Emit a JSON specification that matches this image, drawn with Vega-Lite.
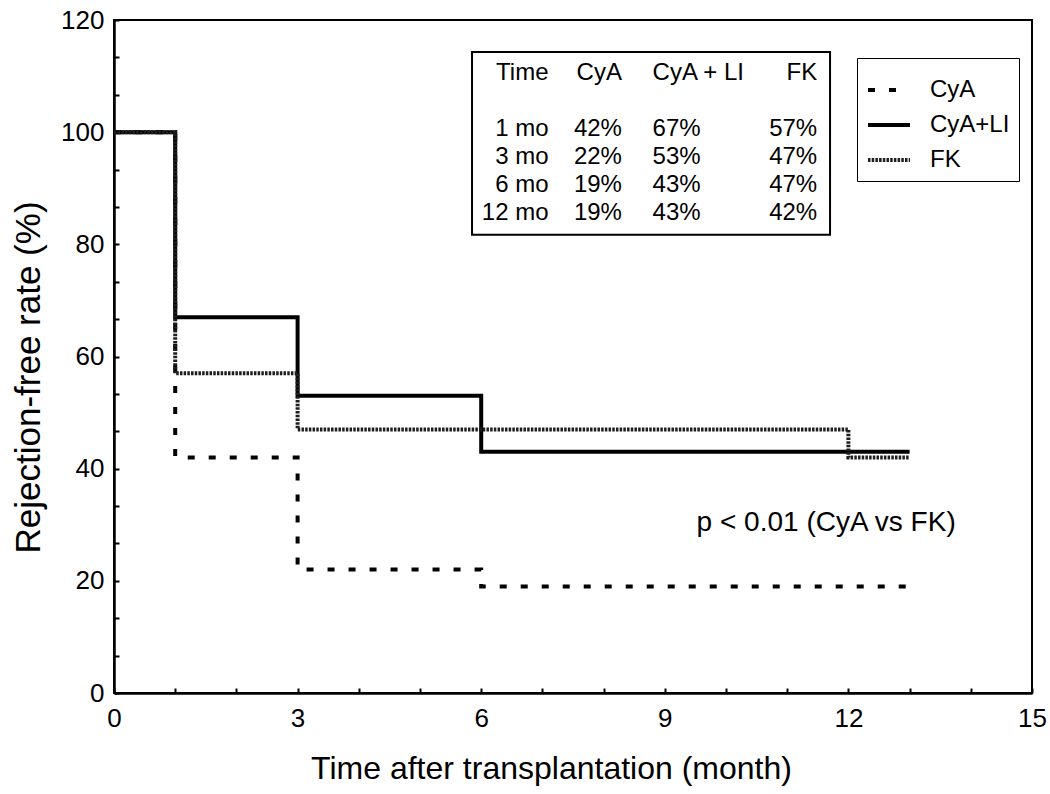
{
  "$schema": "https://vega.github.io/schema/vega-lite/v6.json",
  "width": 918,
  "height": 673,
  "autosize": "none",
  "padding": {"left": 114, "top": 20, "right": 18, "bottom": 101},
  "background": "white",
  "config": {
    "font": "Liberation Sans",
    "view": {"stroke": "black", "strokeWidth": 2},
    "axis": {
      "labelFont": "Liberation Sans",
      "titleFont": "Liberation Sans",
      "labelColor": "black",
      "titleColor": "black",
      "labelFontSize": 26,
      "titleFontSize": 32,
      "titleFontWeight": "normal",
      "domainColor": "black",
      "domainWidth": 2.5,
      "tickColor": "black",
      "tickWidth": 2,
      "tickSize": -5,
      "grid": false,
      "labelOverlap": false,
      "labelFlush": false
    },
    "legend": {
      "labelFont": "Liberation Sans",
      "labelFontSize": 24,
      "labelColor": "black"
    },
    "text": {"font": "Liberation Sans", "fontSize": 24, "color": "black"}
  },
  "layer": [
    {
      "layer": [
        {
          "data": {
            "values": [
              {"month": 0, "rate": 100, "group": "CyA"},
              {"month": 1, "rate": 42, "group": "CyA"},
              {"month": 3, "rate": 22, "group": "CyA"},
              {"month": 6, "rate": 19, "group": "CyA"},
              {"month": 12, "rate": 19, "group": "CyA"},
              {"month": 13, "rate": 19, "group": "CyA"},
              {"month": 0, "rate": 100, "group": "CyA+LI"},
              {"month": 1, "rate": 67, "group": "CyA+LI"},
              {"month": 3, "rate": 53, "group": "CyA+LI"},
              {"month": 6, "rate": 43, "group": "CyA+LI"},
              {"month": 12, "rate": 43, "group": "CyA+LI"},
              {"month": 13, "rate": 43, "group": "CyA+LI"},
              {"month": 0, "rate": 100, "group": "FK"},
              {"month": 1, "rate": 57, "group": "FK"},
              {"month": 3, "rate": 47, "group": "FK"},
              {"month": 6, "rate": 47, "group": "FK"},
              {"month": 12, "rate": 42, "group": "FK"},
              {"month": 13, "rate": 42, "group": "FK"}
            ]
          },
          "mark": {"type": "line", "interpolate": "step-after"},
          "encoding": {
            "x": {
              "field": "month",
              "type": "quantitative",
              "scale": {"domain": [0, 15], "nice": false},
              "title": "Time after transplantation (month)",
              "axis": {
                "values": [0, 1, 2, 3, 4, 5, 6, 7, 8, 9, 10, 11, 12, 13, 14, 15],
                "format": "d",
                "labelExpr": "datum.value % 3 == 0 ? datum.label : ''",
                "labelOverlap": false,
                "labelFlush": false,
                "labelPadding": 17,
                "titlePadding": 22,
                "titleX": 437
              }
            },
            "y": {
              "field": "rate",
              "type": "quantitative",
              "scale": {"domain": [0, 120], "nice": false},
              "title": "Rejection-free rate (%)",
              "axis": {
                "values": [0, 6.667, 13.333, 20, 26.667, 33.333, 40, 46.667, 53.333, 60, 66.667, 73.333, 80, 86.667, 93.333, 100, 106.667, 113.333, 120],
                "labelExpr": "datum.value % 20 == 0 ? format(datum.value, 'd') : ''",
                "labelOverlap": false,
                "labelPadding": 15,
                "titlePadding": 14,
                "titleFontSize": 35,
                "titleY": 357
              }
            },
            "color": {
              "field": "group",
              "type": "nominal",
              "scale": {"domain": ["CyA", "CyA+LI", "FK"], "range": ["black", "black", "#1e1e1e"]},
              "legend": {
                "title": null,
                "orient": "none",
                "legendX": 743,
                "legendY": 38,
                "strokeColor": "black",
                "fillColor": "white",
                "padding": 9,
                "symbolType": "stroke",
                "symbolSize": 1764,
                "symbolStrokeWidth": 4,
                "rowPadding": 0,
                "labelOffset": 18
              }
            },
            "strokeDash": {
              "field": "group",
              "type": "nominal",
              "scale": {"domain": ["CyA", "CyA+LI", "FK"], "range": [[7, 14], [1, 0], [2.5, 1.2]]},
              "legend": {
                "title": null,
                "orient": "none",
                "legendX": 743,
                "legendY": 38,
                "strokeColor": "black",
                "fillColor": "white",
                "padding": 9,
                "symbolType": "stroke",
                "symbolSize": 1764,
                "symbolStrokeWidth": 4,
                "rowPadding": 0,
                "labelOffset": 18
              }
            },
            "strokeWidth": {"value": 4}
          }
        },
        {
          "data": {"values": [{}]},
          "mark": {"type": "rect", "filled": false, "stroke": "black", "strokeWidth": 2},
          "encoding": {
            "x": {"datum": 5.85},
            "x2": {"datum": 11.7},
            "y": {
              "datum": 114.3,
              "title": "Rejection-free rate (%)",
              "axis": {
                "values": [0, 6.667, 13.333, 20, 26.667, 33.333, 40, 46.667, 53.333, 60, 66.667, 73.333, 80, 86.667, 93.333, 100, 106.667, 113.333, 120],
                "labelExpr": "datum.value % 20 == 0 ? format(datum.value, 'd') : ''",
                "labelOverlap": false,
                "labelPadding": 15,
                "titlePadding": 14,
                "titleFontSize": 35,
                "titleY": 357
              }
            },
            "y2": {"datum": 81.7}
          }
        },
        {
          "data": {"values": [{}]},
          "mark": {"type": "text", "align": "left", "baseline": "middle", "fontSize": 28, "text": "p < 0.01 (CyA vs FK)"},
          "encoding": {
            "x": {"datum": 9.52},
            "y": {
              "datum": 30.3,
              "title": "Rejection-free rate (%)",
              "axis": {
                "values": [0, 6.667, 13.333, 20, 26.667, 33.333, 40, 46.667, 53.333, 60, 66.667, 73.333, 80, 86.667, 93.333, 100, 106.667, 113.333, 120],
                "labelExpr": "datum.value % 20 == 0 ? format(datum.value, 'd') : ''",
                "labelOverlap": false,
                "labelPadding": 15,
                "titlePadding": 14,
                "titleFontSize": 35,
                "titleY": 357
              }
            }
          }
        }
      ]
    },
    {
      "data": {
        "values": [
          {"row": "Time", "col": "Time", "text": "Time"},
          {"row": "Time", "col": "CyA", "text": "CyA"},
          {"row": "Time", "col": "CyA+LI", "text": "CyA + LI"},
          {"row": "Time", "col": "FK", "text": "FK"},
          {"row": "1 mo", "col": "Time", "text": "1 mo"},
          {"row": "1 mo", "col": "CyA", "text": "42%"},
          {"row": "1 mo", "col": "CyA+LI", "text": "67%"},
          {"row": "1 mo", "col": "FK", "text": "57%"},
          {"row": "3 mo", "col": "Time", "text": "3 mo"},
          {"row": "3 mo", "col": "CyA", "text": "22%"},
          {"row": "3 mo", "col": "CyA+LI", "text": "53%"},
          {"row": "3 mo", "col": "FK", "text": "47%"},
          {"row": "6 mo", "col": "Time", "text": "6 mo"},
          {"row": "6 mo", "col": "CyA", "text": "19%"},
          {"row": "6 mo", "col": "CyA+LI", "text": "43%"},
          {"row": "6 mo", "col": "FK", "text": "47%"},
          {"row": "12 mo", "col": "Time", "text": "12 mo"},
          {"row": "12 mo", "col": "CyA", "text": "19%"},
          {"row": "12 mo", "col": "CyA+LI", "text": "43%"},
          {"row": "12 mo", "col": "FK", "text": "42%"}
        ]
      },
      "encoding": {
        "y": {
          "field": "row",
          "type": "nominal",
          "scale": {"type": "point", "domain": ["Time", "gap", "1 mo", "3 mo", "6 mo", "12 mo"], "range": [53, 193], "padding": 0},
          "axis": null
        },
        "text": {"field": "text"}
      },
      "layer": [
        {
          "transform": [{"filter": "datum.col == 'Time'"}],
          "mark": {"type": "text", "align": "right", "baseline": "middle"},
          "encoding": {"x": {"datum": 7.1}}
        },
        {
          "transform": [{"filter": "datum.col == 'CyA'"}],
          "mark": {"type": "text", "align": "right", "baseline": "middle"},
          "encoding": {"x": {"datum": 8.3}}
        },
        {
          "transform": [{"filter": "datum.col == 'CyA+LI'"}],
          "mark": {"type": "text", "align": "left", "baseline": "middle"},
          "encoding": {"x": {"datum": 8.8}}
        },
        {
          "transform": [{"filter": "datum.col == 'FK'"}],
          "mark": {"type": "text", "align": "right", "baseline": "middle"},
          "encoding": {"x": {"datum": 11.49}}
        }
      ]
    }
  ],
  "resolve": {"scale": {"y": "independent"}}
}
